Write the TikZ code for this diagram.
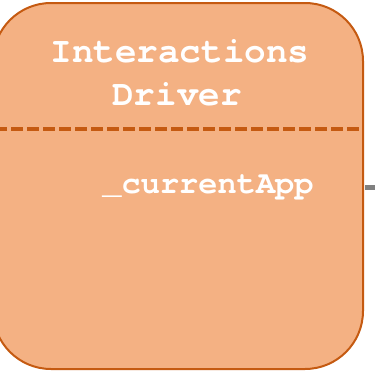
\documentclass[tikz,border=0pt]{standalone}
\usepackage{fontspec}
\setmonofont{texgyrecursor}[Extension=.otf, UprightFont=*-regular, BoldFont=*-bold]
\definecolor{boxfill}{HTML}{F4B183}
\definecolor{boxline}{HTML}{C55A11}
\definecolor{linkgray}{HTML}{808080}
\begin{document}
\begin{tikzpicture}[x=1pt,y=-1pt,
  classbox/.style={draw=boxline, fill=boxfill, line width=2pt, rounded corners=58pt,
    minimum width=370pt, minimum height=366pt, inner sep=0pt},
  label/.style={text=white, font=\ttfamily\bfseries, inner sep=0pt, anchor=base},
  divider/.style={draw=boxline, line width=4pt, dash pattern=on 12pt off 4pt},
  link/.style={draw=linkgray, line width=5pt}]
\useasboundingbox (0,0) rectangle (375,372);
\node[classbox] (box) at (178,186) {};
\node[label, font=\ttfamily\bfseries\fontsize{36}{43}\selectfont] (t1) at (180,62) {Interactions};
\node[label, font=\ttfamily\bfseries\fontsize{36}{43}\selectfont] (t2) at (177,105) {Driver};
\node[label, font=\ttfamily\bfseries\fontsize{32}{38}\selectfont] (f1) at (208,193) {\_currentApp};
\coordinate (dl) at (-5,128.5);
\coordinate (dr) at (359,128.5);
\draw[divider] (dl) -- (dr);
\coordinate (out) at (375,187.5);
\draw[link] (box.east |- out) ++(1,0) -- (out);
\end{tikzpicture}
\end{document}
